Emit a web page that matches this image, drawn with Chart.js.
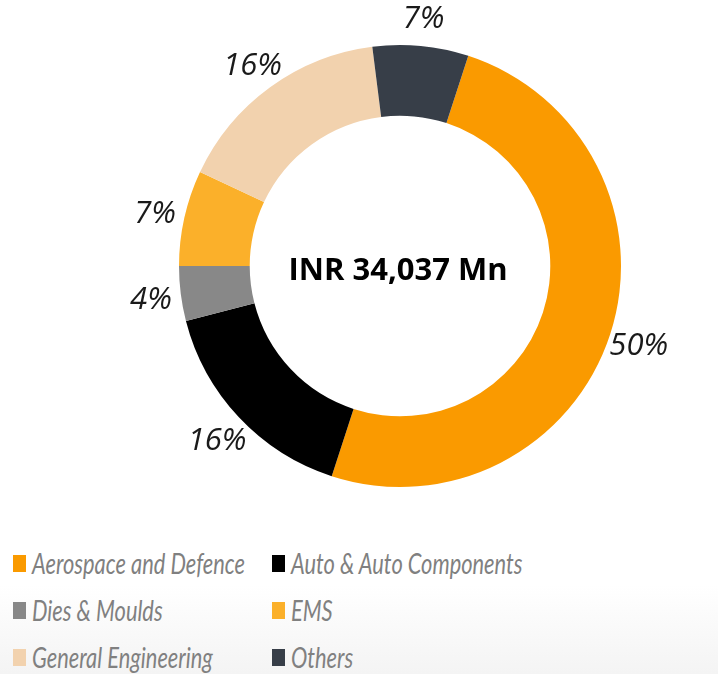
<!DOCTYPE html>
<html>
<head>
<meta charset="utf-8">
<script src="https://cdn.jsdelivr.net/npm/chart.js@4/dist/chart.umd.min.js"></script>
<style>
  html, body { margin: 0; padding: 0; }
  body {
    width: 718px; height: 674px; overflow: hidden; position: relative;
    background: linear-gradient(to bottom, #ffffff 0px, #ffffff 585px, #f4f4f4 674px);
  }
  #wrap { position: absolute; left: 0; top: 0; width: 718px; height: 520px; }
  #legend { position: absolute; left: 0; top: 540px; width: 718px; }
  .item { position: absolute; display: flex; align-items: center; height: 30px;
          font-family: "Lato", sans-serif; font-style: italic; font-weight: 400;
          font-size: 28px; color: #808080; white-space: nowrap; }
  .box { width: 13px; height: 17px; margin-right: 6px; flex: none; }
  .txt { display: inline-block; transform: scaleX(0.78); transform-origin: left center; }
</style>
</head>
<body>
<div id="wrap"><canvas id="pie"></canvas></div>
<div id="legend"></div>
<script>
const categories = ["Aerospace and Defence", "Auto & Auto Components", "Dies & Moulds", "EMS", "General Engineering", "Others"];
const shares = [50, 16, 4, 7, 16, 7];
const colors = ["#FA9A00", "#000000", "#888888", "#FBB02A", "#F2D2AE", "#373E48"];
const centerText = "INR 34,037 Mn";

// percentage labels outside the ring
const outsideLabels = {
  id: 'outsideLabels',
  afterDatasetsDraw(chart) {
    const ctx = chart.ctx;
    const meta = chart.getDatasetMeta(0);
    ctx.save();
    ctx.font = 'italic 31px "Open Sans", sans-serif';
    ctx.fillStyle = '#1a1a1a';
    ctx.textAlign = 'center';
    ctx.textBaseline = 'middle';
    meta.data.forEach((arc, i) => {
      const p = arc.getProps(['x', 'y', 'startAngle', 'endAngle', 'outerRadius'], true);
      const mid = (p.startAngle + p.endAngle) / 2;
      const r = p.outerRadius + 30;
      ctx.fillText(shares[i] + '%', p.x + Math.cos(mid) * r, p.y + Math.sin(mid) * r + 3);
    });
    // total in the hole
    const a = meta.data[0];
    ctx.font = 'bold 31px "Open Sans", sans-serif';
    ctx.fillStyle = '#000';
    ctx.fillText(centerText, a.x - 2, a.y + 5);
    ctx.restore();
  }
};

new Chart(document.getElementById('pie'), {
  type: 'doughnut',
  data: {
    labels: categories,
    datasets: [{
      data: shares,
      backgroundColor: colors,
      borderWidth: 0
    }]
  },
  options: {
    responsive: true,
    maintainAspectRatio: false,
    animation: false,
    cutout: '68%',
    rotation: 18,
    layout: { padding: { left: 179, right: 97, top: 45, bottom: 33 } },
    plugins: {
      legend: { display: false },
      tooltip: { enabled: false }
    }
  },
  plugins: [outsideLabels]
});

// two-column legend
const legend = document.getElementById('legend');
categories.forEach((name, i) => {
  const el = document.createElement('div');
  el.className = 'item';
  el.style.left = (i % 2 === 0 ? 13 : 272) + 'px';
  el.style.top = (Math.floor(i / 2) * 47 + 8) + 'px';
  el.innerHTML = '<span class="box" style="background:' + colors[i] + '"></span><span class="txt"></span>';
  el.lastChild.textContent = name;
  legend.appendChild(el);
});
</script>
</body>
</html>
